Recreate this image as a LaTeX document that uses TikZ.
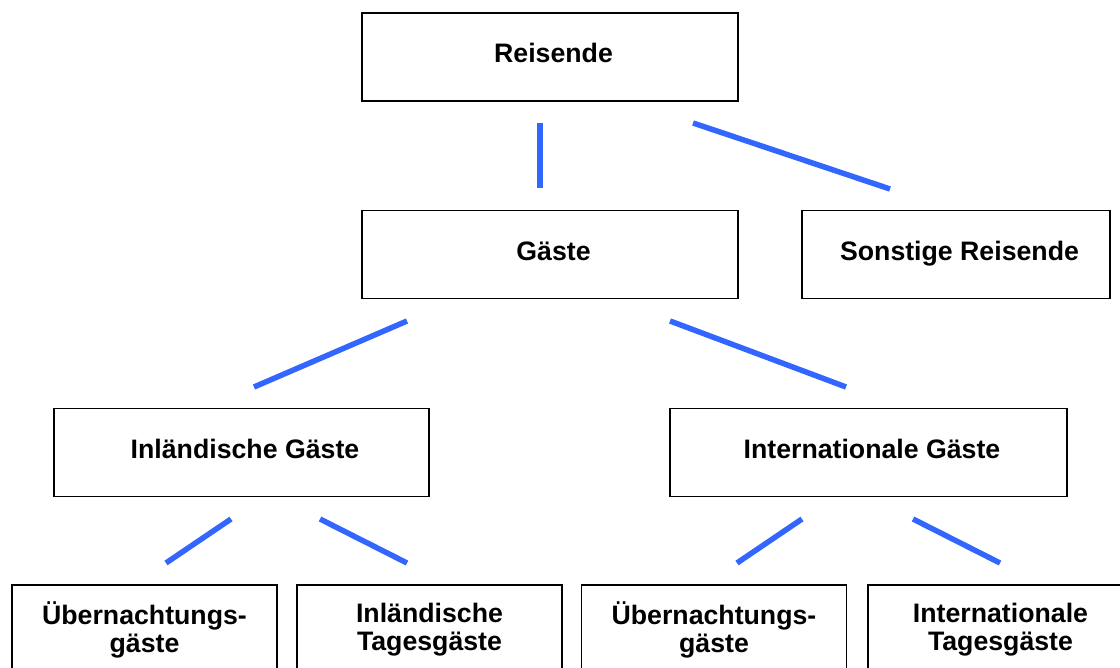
\documentclass[tikz,border=0pt]{standalone}
\usepackage{fontspec}
\setmainfont{Liberation Sans}
\definecolor{linkblue}{RGB}{51,102,255}
\begin{document}
\begin{tikzpicture}[x=1pt,y=-1pt,
  box/.style={draw=black,line width=1.6pt,fill=white,inner sep=0pt,
    font=\fontsize{26.7pt}{28pt}\selectfont\bfseries},
  onebox/.style={box,minimum height=88pt,text height=19pt,text depth=7.5pt,
    execute at begin node={\hspace*{7pt}}},
  twobox/.style={box,minimum height=90pt,minimum width=265pt,align=center},
  link/.style={draw=linkblue,line width=5.5pt}]
\useasboundingbox (0,0) rectangle (1120,668);
\clip (0,0) rectangle (1120,668);
% boxes
\node[onebox,minimum width=376pt] (reisende) at (550,57) {Reisende};
\node[onebox,minimum width=376pt] (gaeste) at (550,254.5) {Gäste};
\node[onebox,minimum width=308pt] (sonstige) at (956,254.5) {Sonstige Reisende};
\node[onebox,minimum width=375pt] (inl) at (241.5,452.5) {Inländische Gäste};
\node[onebox,minimum width=397pt] (intl) at (868.5,452.5) {Internationale Gäste};
\node[twobox] (ueb1) at (144.5,630) {Übernachtungs-\\gäste};
\node[twobox] (inltag) at (429.5,630) {Inländische\\Tagesgäste};
\node[twobox] (ueb2) at (714,630) {Übernachtungs-\\gäste};
\node[twobox] (intltag) at (1000.5,630) {Internationale\\Tagesgäste};
% connector ends
\coordinate (c1a) at (540,123); \coordinate (c1b) at (540,188);
\coordinate (c2a) at (693,123); \coordinate (c2b) at (890,189);
\coordinate (c3a) at (407,321); \coordinate (c3b) at (254,387);
\coordinate (c4a) at (670,321); \coordinate (c4b) at (846,387);
\coordinate (c5a) at (231,519); \coordinate (c5b) at (166,563);
\coordinate (c6a) at (320,519); \coordinate (c6b) at (407,563);
\coordinate (c7a) at (802,519); \coordinate (c7b) at (737,563);
\coordinate (c8a) at (913,519); \coordinate (c8b) at (1000,563);
% connectors
\draw[link] (c1a) -- (c1b);
\draw[link] (c2a) -- (c2b);
\draw[link] (c3a) -- (c3b);
\draw[link] (c4a) -- (c4b);
\draw[link] (c5a) -- (c5b);
\draw[link] (c6a) -- (c6b);
\draw[link] (c7a) -- (c7b);
\draw[link] (c8a) -- (c8b);
\end{tikzpicture}
\end{document}
